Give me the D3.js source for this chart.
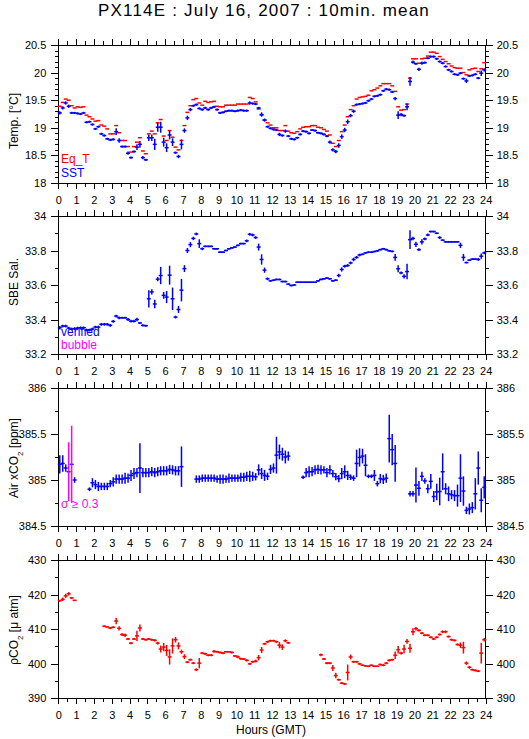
<!DOCTYPE html>
<html>
<head>
<meta charset="utf-8">
<script src="https://cdn.jsdelivr.net/npm/d3@7"></script>
<style>
  body { margin: 0; background: #fff; }
  text { font-family: "Liberation Sans", Arial, sans-serif; }
</style>
</head>
<body>
<svg id="chart" width="529" height="739"></svg>
<script>
// 10-minute means, one value per bin (144 bins over the day), null = no data
const hourTicks = d3.range(0, 25);

const tempTicks = [18, 18.5, 19, 19.5, 20, 20.5];
const salTicks = [33.2, 33.4, 33.6, 33.8, 34];
const xco2Ticks = [384.5, 385, 385.5, 386];
const pco2Ticks = [390, 400, 410, 420, 430];

// SST (blue)
const sstVal = [
  19.27, 19.36, 19.45, 19.39, 19.27, 19.27,
  19.26, 19.25, 19.27, 19.10, 19.11, 19.06,
  18.98, 19.02, 18.89, 18.86, 18.80, 18.78,
  18.79, 18.93, 18.77, 18.66, 18.66, 18.54,
  18.46, 18.57, 18.65, 18.70, 18.46, 18.42,
  18.82, 18.82, 18.70, 19.01, 19.01, 18.74,
  18.64, 18.87, 18.74, 18.55, 18.48, 18.70,
  18.95, 19.18, 19.33, 19.40, 19.42, 19.35,
  19.33, 19.36, 19.33, 19.36, 19.38, 19.33,
  19.27, 19.28, 19.30, 19.31, 19.31, 19.30,
  19.31, 19.32, 19.31, 19.31, 19.45, 19.44,
  19.43, 19.36, 19.24, 19.14, 19.02, 18.99,
  18.97, 18.96, 18.88, 18.86, 18.94, 18.85,
  18.80, 18.79, 18.82, 18.88, 18.94, 18.93,
  18.90, 18.96, 18.95, 18.91, 18.90, 18.88,
  18.85, 18.74, 18.60, 18.57, 18.68, 18.84,
  18.96, 19.11, 19.22, 19.30, 19.42, 19.43,
  19.44, 19.45, 19.49, 19.52, 19.57, 19.58,
  19.60, 19.67, 19.70, 19.69, 19.65, 19.53,
  19.23, 19.24, 19.22, 19.38, 19.84, 20.19,
  20.16, 20.06, 20.17, 20.18, 20.26, 20.29,
  20.29, 20.25, 20.20, 20.17, 20.11, 20.05,
  20.02, 19.97, 19.96, 19.99, 19.89, 19.85,
  19.94, 19.95, 19.97, 19.90, 19.99, 20.05
];
const sstSd = [
  .03, .03, .03, .03, .02, .02,
  .02, .02, .02, .02, .02, .02,
  .02, .02, .02, .02, .02, .02,
  .02, .06, .04, .02, .02, .03,
  .02, .02, .05, .06, .03, .02,
  .06, .06, .10, .08, .10, .08,
  .08, .08, .07, .02, .03, .09,
  .04, .04, .03, .02, .02, .02,
  .02, .02, .02, .02, .02, .02,
  .02, .02, .02, .02, .02, .02,
  .02, .02, .02, .02, .03, .02,
  .02, .02, .04, .03, .02, .02,
  .02, .02, .03, .02, .03, .02,
  .02, .02, .02, .02, .02, .02,
  .02, .02, .02, .02, .02, .02,
  .02, .03, .03, .03, .04, .04,
  .04, .04, .03, .03, .02, .02,
  .02, .02, .02, .02, .02, .02,
  .02, .02, .02, .02, .02, .03,
  .07, .03, .02, .06, .08, .03,
  .02, .03, .03, .02, .02, .02,
  .02, .02, .02, .02, .02, .02,
  .02, .02, .02, .02, .02, .04,
  .02, .02, .02, .02, .05, .03
];

// Equilibrator temperature (red)
const eqtVal = [
  19.39, 19.46, 19.52, 19.50, 19.40, 19.36,
  19.38, 19.37, 19.38, 19.23, 19.20, 19.16,
  19.12, 19.13, 19.05, 19.03, 18.98, 18.89,
  18.89, 19.04, 18.91, 18.77, 18.77, 18.66,
  18.56, 18.66, 18.74, 18.82, 18.58, 18.53,
  18.89, 18.94, 18.89, 19.09, 19.15, 18.85,
  18.77, 18.95, 18.83, 18.65, 18.60, 18.77,
  19.04, 19.28, 19.40, 19.51, 19.53, 19.45,
  19.41, 19.48, 19.46, 19.47, 19.48, 19.39,
  19.38, 19.38, 19.41, 19.41, 19.41, 19.41,
  19.43, 19.43, 19.43, 19.43, 19.55, 19.53,
  19.47, 19.34, 19.23, 19.14, 19.09, 19.05,
  19.00, 19.00, 18.95, 18.95, 19.04, 18.94,
  18.91, 18.90, 18.93, 18.98, 19.01, 19.02,
  19.02, 19.04, 19.04, 19.01, 19.00, 18.97,
  18.94, 18.87, 18.72, 18.66, 18.77, 18.93,
  19.05, 19.20, 19.33, 19.40, 19.52, 19.55,
  19.56, 19.57, 19.59, 19.67, 19.69, 19.72,
  19.76, 19.80, 19.80, 19.80, 19.76, 19.66,
  19.38, 19.32, 19.33, 19.43, 19.90, 20.25,
  20.25, 20.17, 20.25, 20.26, 20.30, 20.37,
  20.37, 20.35, 20.29, 20.24, 20.20, 20.16,
  20.12, 20.09, 20.08, 20.08, 20.00, 19.96,
  20.05, 20.07, 20.08, 20.02, 20.07, 20.18
];

// SBE salinity (blue)
const salVal = [
  33.352, 33.362, 33.362, 33.350, 33.345, 33.347,
  33.350, 33.352, 33.352, 33.339, 33.339, 33.345,
  33.356, 33.356, 33.372, 33.372, 33.372, 33.366,
  33.389, 33.420, 33.410, 33.410, 33.410, 33.400,
  33.390, 33.390, 33.400, 33.380, 33.366, 33.364,
  33.520, 33.560, 33.490, 33.634, 33.655, 33.540,
  33.530, 33.657, 33.520, 33.414, 33.458, 33.570,
  33.695, 33.800, 33.834, 33.870, 33.896, 33.840,
  33.810, 33.824, 33.824, 33.824, 33.810, 33.810,
  33.790, 33.790, 33.800, 33.810, 33.815, 33.820,
  33.830, 33.840, 33.840, 33.856, 33.894, 33.890,
  33.875, 33.820, 33.748, 33.686, 33.636, 33.624,
  33.628, 33.632, 33.632, 33.620, 33.620, 33.605,
  33.597, 33.600, 33.616, 33.616, 33.616, 33.616,
  33.616, 33.616, 33.616, 33.624, 33.632, 33.636,
  33.640, 33.636, 33.624, 33.628, 33.655, 33.690,
  33.709, 33.713, 33.728, 33.748, 33.760, 33.774,
  33.778, 33.786, 33.790, 33.790, 33.794, 33.798,
  33.805, 33.810, 33.805, 33.798, 33.795, 33.760,
  33.694, 33.670, 33.650, 33.678, 33.863, 33.870,
  33.836, 33.805, 33.850, 33.867, 33.890, 33.910,
  33.910, 33.900, 33.875, 33.860, 33.850, 33.850,
  33.850, 33.850, 33.850, 33.830, 33.760, 33.730,
  33.744, 33.750, 33.750, 33.748, 33.767, 33.786
];
const salSd = [
  .010, .008, .008, .008, .008, .008,
  .008, .008, .008, .008, .008, .008,
  .008, .008, .008, .008, .008, .008,
  .008, .008, .008, .006, .006, .008,
  .008, .008, .010, .006, .006, .006,
  .050, .015, .025, .012, .050, .020,
  .035, .055, .065, .008, .020, .065,
  .020, .015, .015, .010, .008, .025,
  .008, .005, .005, .005, .005, .005,
  .005, .005, .005, .005, .005, .005,
  .005, .005, .005, .008, .008, .008,
  .008, .020, .030, .015, .008, .005,
  .005, .005, .005, .005, .005, .005,
  .005, .005, .005, .005, .005, .005,
  .005, .005, .005, .005, .005, .005,
  .005, .005, .005, .005, .010, .012,
  .008, .008, .008, .010, .008, .008,
  .005, .005, .005, .005, .005, .005,
  .005, .005, .005, .005, .005, .020,
  .020, .008, .012, .045, .055, .010,
  .015, .008, .015, .008, .008, .005,
  .005, .005, .008, .005, .005, .005,
  .005, .005, .005, .015, .020, .005,
  .005, .005, .005, .008, .015, .008
];

// Air xCO2 (blue, error bar magenta when sigma >= 0.3)
const xco2Val = [
  385.17, 385.18, 385.13, 385.09, 385.17, 385.00,
  null, null, null, null, 384.90, 384.97,
  384.95, 384.93, 384.93, 384.93, 384.93, 384.96,
  384.98, 385.01, 385.01, 385.01, 385.02, 385.02,
  385.05, 385.07, 385.08, 385.13, 385.08, 385.08,
  385.08, 385.09, 385.08, 385.09, 385.10, 385.10,
  385.10, 385.115, 385.11, 385.10, 385.10, 385.145,
  null, null, null, null, 385.01, 385.01,
  385.02, 385.02, 385.02, 385.02, 385.02, 385.01,
  385.01, 385.01, 385.01, 385.02, 385.02, 385.02,
  385.02, 385.03, 385.03, 385.04, 385.04, 385.04,
  385.035, 385.11, 385.07, 385.05, 385.04, 385.115,
  385.13, 385.27, 385.305, 385.28, 385.25, 385.26,
  null, null, null, null, 385.03, 385.08,
  385.09, 385.09, 385.11, 385.115, 385.11, 385.11,
  385.08, 385.11, 385.07, 385.036, 385.015, 385.07,
  385.09, 385.05, 385.03, 385.02, 385.18, 385.245,
  385.26, 385.16, 385.04, 385.04, 385.05, 384.96,
  385.015, 385.006, 385.02, 385.45, 385.33, 385.18,
  null, null, null, null, 384.85, 384.85,
  384.945, 384.91, 385.04, 384.99, 384.905, 384.985,
  384.82, 384.87, 384.875, 385.09, 384.905, 384.85,
  384.84, 384.83, 384.83, 385.02, 384.88, 384.67,
  384.685, 384.70, 384.85, 385.13, 384.78, 384.92
];
const xco2Sd = [
  .10, .09, .04, .32, .42, .03,
  0, 0, 0, 0, .02, .05,
  .05, .05, .04, .04, .04, .04,
  .05, .05, .05, .05, .06, .05,
  .06, .06, .05, .27, .05, .05,
  .05, .05, .05, .05, .05, .05,
  .05, .05, .05, .05, .05, .22,
  0, 0, 0, 0, .04, .04,
  .04, .04, .04, .04, .04, .04,
  .05, .05, .04, .05, .04, .04,
  .04, .05, .05, .05, .06, .05,
  .04, .06, .06, .06, .04, .05,
  .05, .20, .08, .07, .07, .05,
  0, 0, 0, 0, .02, .05,
  .06, .05, .05, .05, .05, .04,
  .05, .05, .04, .04, .04, .06,
  .07, .05, .03, .03, .15, .10,
  .08, .12, .02, .02, .06, .03,
  .05, .05, .05, .26, .17, .20,
  0, 0, 0, 0, .03, .03,
  .19, .08, .05, .03, .05, .08,
  .06, .09, .15, .20, .06, .08,
  .05, .06, .12, .26, .16, .04,
  .06, .06, .17, .18, .13, .12
];

// pCO2 (red)
const pco2Val = [
  418.2, 418.6, 419.6, 420.2, 419.0, 418.3,
  null, null, null, null, null, null,
  null, null, null, 410.8, 410.6, 410.3,
  410.5, 412.3, 410.2, 408.4, 408.2, 407.1,
  405.9, 407.1, 408.0, 410.3, 407.1, 406.9,
  407.1, 406.9, 406.7, 405.9, 404.2, 404.75,
  403.8, 401.9, 405.1, 406.9, 405.1, 403.4,
  402.0, 400.4, 401.1, 400.1, 398.2, 400.1,
  403.0, 402.8, 402.4, 402.4, 403.5, 403.4,
  403.2, 403.0, 403.4, 403.4, 403.2, 402.2,
  401.9, 401.4, 401.3, 400.9, 399.9, 400.5,
  400.7, 401.7, 403.9, 405.7, 406.3, 406.6,
  406.6, 406.3, 405.3, 404.75, 406.6, 406.0,
  null, null, null, null, null, null,
  null, null, null, null, 402.5, 401.3,
  400.1, 400.1, 398.7, 396.5, 395.3, 394.3,
  394.1, 397.4, 401.9, 400.5, 400.5, 399.9,
  399.5, 399.3, 399.2, 399.5, 399.2, 399.2,
  399.7, 399.5, 400.1, 400.9, 401.1, 402.4,
  404.0, 403.0, 404.2, 406.4, 404.4, 409.2,
  410.1, 409.6, 408.8, 408.2, 408.2, 407.6,
  407.1, 407.6, 408.4, 409.2, 409.2, 407.8,
  406.9, 406.7, 405.5, 405.3, 404.6, 400.1,
  398.9, 398.2, 398.0, 397.8, 403.0, 406.9
];
const pco2Sd = [
  .3, .5, .6, .5, .3, .2,
  0, 0, 0, 0, 0, 0,
  0, 0, 0, .2, .2, .3,
  .3, .9, .6, .4, .5, .3,
  .3, .3, 1.5, 1.0, .3, .3,
  .3, .3, .3, .4, 1.0, 1.2,
  1.6, 2.2, 2.2, .8, 1.0, .6,
  .7, .3, .3, .3, .4, 1.5,
  .3, .3, .3, .3, .4, .3,
  .3, .3, .2, .2, .3, .3,
  .4, .3, .3, .3, .3, .3,
  .4, .8, .9, .3, .3, .3,
  .3, .3, .9, .8, .4, .3,
  0, 0, 0, 0, 0, 0,
  0, 0, 0, 0, .4, .3,
  .3, .3, .9, .8, .3, .3,
  .3, 2.3, .7, .3, .3, .3,
  .2, .2, .2, .2, .2, .2,
  .3, .3, .3, .3, .3, 1.1,
  1.1, .4, 1.2, .7, 1.3, 1.0,
  .5, .3, .3, .3, .3, .3,
  .3, .3, .3, .4, .4, .3,
  .3, .3, .3, .8, 1.7, .5,
  .4, .3, .3, .3, 3.0, .5
];

const RED = '#ff0000', BLUE = '#0000ff', MAGENTA = '#ff00ff';
const binHours = 10 / 60;

const svg = d3.select('#chart');

const x = d3.scaleLinear().domain([0, 24]).range([58.3, 485.7]);
const panelHeight = 138;

const panels = [
  {
    top: 45, domain: [18, 20.5], ticks: tempTicks, minorStep: 0.1,
    label: [{t: 'Temp. [°C]'}], labelY: 121,
    series: [
      {vals: eqtVal, sd: null, color: RED},
      {vals: sstVal, sd: sstSd, color: BLUE}
    ],
    legend: [{t: 'Eq_T', c: RED, y: 163}, {t: 'SST', c: BLUE, y: 177}]
  },
  {
    top: 216, domain: [33.2, 34], ticks: salTicks, minorStep: 0.1,
    label: [{t: 'SBE Sal.'}], labelY: 282,
    series: [{vals: salVal, sd: salSd, color: BLUE}],
    legend: [{t: 'verified', c: BLUE, y: 336}, {t: 'bubble', c: MAGENTA, y: 349}]
  },
  {
    top: 388, domain: [384.5, 386], ticks: xco2Ticks, minorStep: 0.25,
    label: [{t: 'Air xCO'}, {t: '2', sub: true}, {t: ' [ppm]'}], labelY: 458,
    series: [{vals: xco2Val, sd: xco2Sd, color: BLUE, bigSd: 0.3, bigColor: MAGENTA}],
    legend: [{t: 'σ ≥ 0.3', c: MAGENTA, y: 508}]
  },
  {
    top: 560, domain: [390, 430], ticks: pco2Ticks, minorStep: 5,
    label: [{t: 'ρCO'}, {t: '2', sub: true}, {t: ' [μ atm]'}], labelY: 630,
    series: [{vals: pco2Val, sd: pco2Sd, color: RED}],
    legend: []
  }
];

// Title
svg.append('text')
  .attr('x', 264)
  .attr('y', 16)
  .attr('text-anchor', 'middle')
  .style('font-size', '17px')
  .style('letter-spacing', '1.2px')
  .text('PX114E : July 16, 2007 : 10min. mean');

const halfHourTicks = d3.range(0.5, 24, 1);

panels.forEach(p => {
  const y = d3.scaleLinear()
    .domain(p.domain)
    .range([p.top + panelHeight, p.top]);
  const bottom = p.top + panelHeight;
  const minorTicks = d3.range(p.domain[0], p.domain[1] + p.minorStep / 2, p.minorStep)
    .map(v => +v.toFixed(3));

  const g = svg.append('g');

  // minor ticks (no labels)
  g.append('g').attr('transform', `translate(0,${p.top})`)
    .call(d3.axisTop(x).tickValues(halfHourTicks).tickSize(4).tickFormat(''));
  g.append('g').attr('transform', `translate(0,${bottom})`)
    .call(d3.axisBottom(x).tickValues(halfHourTicks).tickSize(4).tickFormat(''));
  g.append('g').attr('transform', `translate(${x(0)},0)`)
    .call(d3.axisLeft(y).tickValues(minorTicks).tickSize(3.5).tickFormat(''));
  g.append('g').attr('transform', `translate(${x(24)},0)`)
    .call(d3.axisRight(y).tickValues(minorTicks).tickSize(3.5).tickFormat(''));

  // major ticks
  g.append('g').attr('transform', `translate(0,${p.top})`)
    .call(d3.axisTop(x).tickValues(hourTicks).tickSize(6).tickFormat(''));
  g.append('g').attr('class', 'xlab').attr('transform', `translate(0,${bottom})`)
    .call(d3.axisBottom(x).tickValues(hourTicks).tickSize(6).tickPadding(7).tickFormat(d => d));
  g.append('g').attr('class', 'ylab').attr('transform', `translate(${x(0)},0)`)
    .call(d3.axisLeft(y).tickValues(p.ticks).tickSize(7).tickPadding(5).tickFormat(d => d));
  g.append('g').attr('class', 'ylab').attr('transform', `translate(${x(24)},0)`)
    .call(d3.axisRight(y).tickValues(p.ticks).tickSize(7).tickPadding(4).tickFormat(d => d));

  g.selectAll('.domain').remove();
  g.selectAll('.tick line').attr('stroke', '#000').attr('shape-rendering', 'crispEdges');
  g.selectAll('.tick text')
    .attr('fill', '#000')
    .style('font-size', '11px')
    .style('font-family', '"Liberation Sans", Arial, sans-serif');

  // frame
  g.append('rect')
    .attr('x', x(0)).attr('y', p.top)
    .attr('width', x(24) - x(0)).attr('height', panelHeight)
    .attr('fill', 'none').attr('stroke', '#000')
    .attr('shape-rendering', 'crispEdges');

  // y axis title
  const lab = g.append('text')
    .attr('transform', `translate(18,${p.labelY}) rotate(-90)`)
    .attr('text-anchor', 'middle')
    .style('font-size', '12px');
  p.label.forEach(part => {
    const ts = lab.append('tspan').text(part.t);
    if (part.sub) ts.attr('baseline-shift', 'sub').style('font-size', '8px');
  });

  // data marks: 10-min horizontal bar + vertical std bar
  p.series.forEach(s => {
    const pts = s.vals
      .map((v, i) => ({t: (i + 0.5) * binHours, v: v, sd: s.sd ? s.sd[i] : 0}))
      .filter(d => d.v !== null);

    const sg = g.append('g');

    sg.selectAll('line.h').data(pts).enter().append('line')
      .attr('class', 'h')
      .attr('x1', d => x(d.t - binHours / 2) - 0.5)
      .attr('x2', d => x(d.t + binHours / 2) + 0.5)
      .attr('y1', d => y(d.v))
      .attr('y2', d => y(d.v))
      .attr('stroke', s.color)
      .attr('stroke-width', 1.5);

    sg.selectAll('line.v').data(pts.filter(d => d.sd > 0)).enter().append('line')
      .attr('class', 'v')
      .attr('x1', d => x(d.t))
      .attr('x2', d => x(d.t))
      .attr('y1', d => y(d.v - d.sd))
      .attr('y2', d => y(d.v + d.sd))
      .attr('stroke', d => (s.bigSd && d.sd >= s.bigSd) ? s.bigColor : s.color)
      .attr('stroke-width', 1.5);
  });

  // legend text
  p.legend.forEach(l => {
    g.append('text')
      .attr('x', 61)
      .attr('y', l.y)
      .attr('fill', l.c)
      .style('font-size', '12px')
      .text(l.t);
  });
});

// x axis title
svg.append('text')
  .attr('x', 271)
  .attr('y', 734)
  .attr('text-anchor', 'middle')
  .style('font-size', '12px')
  .text('Hours (GMT)');
</script>
</body>
</html>
